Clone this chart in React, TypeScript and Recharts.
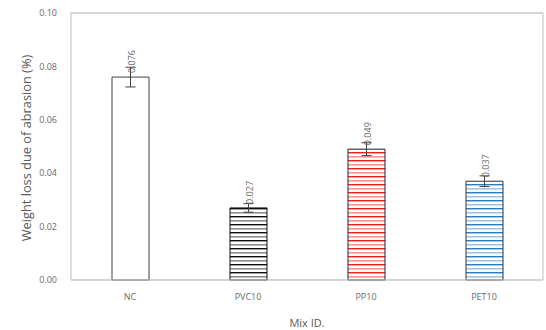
import * as React from "react";
import {
  BarChart,
  Bar,
  Cell,
  XAxis,
  YAxis,
  CartesianGrid,
  ErrorBar,
  LabelList,
  Label,
  ReferenceLine,
} from "recharts";

const categories = ["NC", "PVC10", "PP10", "PET10"];
const values = [0.076, 0.027, 0.049, 0.037];
const errors = [0.0037, 0.0016, 0.0024, 0.002];
const yTicks = [0, 0.02, 0.04, 0.06, 0.08, 0.1];

const FONT = "'Open Sans', 'DejaVu Sans', sans-serif";
const TEXT = "#6a6a6a";
const TITLE = "#595959";
const GRID = "#d9d9d9";
const AXIS = "#bfbfbf";

// stripe colours per bar: [dark line, light line]; NC is plain white
const stripes: (string[] | null)[] = [
  null,
  ["#111111", "#8c8c8c"],
  ["#ff1a1a", "#ff8f8f"],
  ["#2a7bc4", "#9cc5e8"],
];
const borders = ["#404040", "#111111", "#222222", "#333333"];

const rows = categories.map((name, i) => ({ name, value: values[i], err: errors[i] }));

function ValueLabel(props: any) {
  const { x, y, width, value } = props;
  const cx = x + width / 2 + 1;
  const ty = y - 4;
  return (
    <text
      x={cx}
      y={ty}
      transform={`rotate(-90 ${cx} ${ty})`}
      textAnchor="start"
      dominantBaseline="central"
      fontSize={9}
      fontFamily={FONT}
      fill={TEXT}
    >
      {Number(value).toFixed(3)}
    </text>
  );
}

export default function App() {
  return (
    <div style={{ position: "absolute", left: 0, top: 0, background: "#fff" }}>
      <BarChart
        width={546}
        height={330}
        data={rows}
        margin={{ top: 13, right: 0, left: 0, bottom: 0 }}
        barCategoryGap={0}
      >
        <defs>
          {stripes.map((s, i) =>
            s ? (
              <pattern key={i} id={`stripe-${i}`} width={8} height={8} patternUnits="userSpaceOnUse">
                <rect x={0} y={0} width={8} height={8} fill="#ffffff" />
                <rect x={0} y={0} width={8} height={1.4} fill={s[0]} />
                <rect x={0} y={4} width={8} height={1.6} fill={s[1]} />
              </pattern>
            ) : null,
          )}
        </defs>
        <CartesianGrid vertical={false} stroke={GRID} />
        <XAxis
          dataKey="name"
          height={50}
          tickLine={false}
          tickSize={0}
          tickMargin={14}
          axisLine={{ stroke: AXIS }}
          tick={{ fontSize: 9, fill: TEXT, fontFamily: FONT }}
        >
          <Label
            value="Mix ID."
            position="insideBottom"
            offset={3}
            style={{ fontSize: 11, fill: TITLE, fontFamily: FONT }}
          />
        </XAxis>
        <YAxis
          yAxisId="left"
          width={71}
          domain={[0, 0.1]}
          ticks={yTicks}
          tickFormatter={(v: number) => v.toFixed(2)}
          tickLine={false}
          tickSize={0}
          tickMargin={14}
          axisLine={{ stroke: AXIS }}
          tick={{ fontSize: 9, fill: TEXT, fontFamily: FONT }}
        >
          <Label
            content={() => (
              <text
                x={26}
                y={148}
                transform="rotate(-90 26 148)"
                textAnchor="middle"
                dominantBaseline="central"
                fontSize={12.8}
                fontFamily={FONT}
                fill={TITLE}
              >
                Weight loss due of abrasion (%)
              </text>
            )}
          />
        </YAxis>
        <YAxis
          yAxisId="right"
          orientation="right"
          width={3}
          domain={[0, 0.1]}
          tick={false}
          tickLine={false}
          axisLine={{ stroke: AXIS }}
        />
        <ReferenceLine yAxisId="left" y={0.1} stroke={AXIS} />
        <Bar yAxisId="left" dataKey="value" barSize={37} isAnimationActive={false}>
          {rows.map((r, i) => (
            <Cell
              key={r.name}
              fill={stripes[i] ? `url(#stripe-${i})` : "#ffffff"}
              stroke={borders[i]}
              strokeWidth={1}
            />
          ))}
          <ErrorBar dataKey="err" width={5} stroke="#404040" strokeWidth={1} />
          <LabelList dataKey="value" content={ValueLabel} />
        </Bar>
      </BarChart>
    </div>
  );
}
